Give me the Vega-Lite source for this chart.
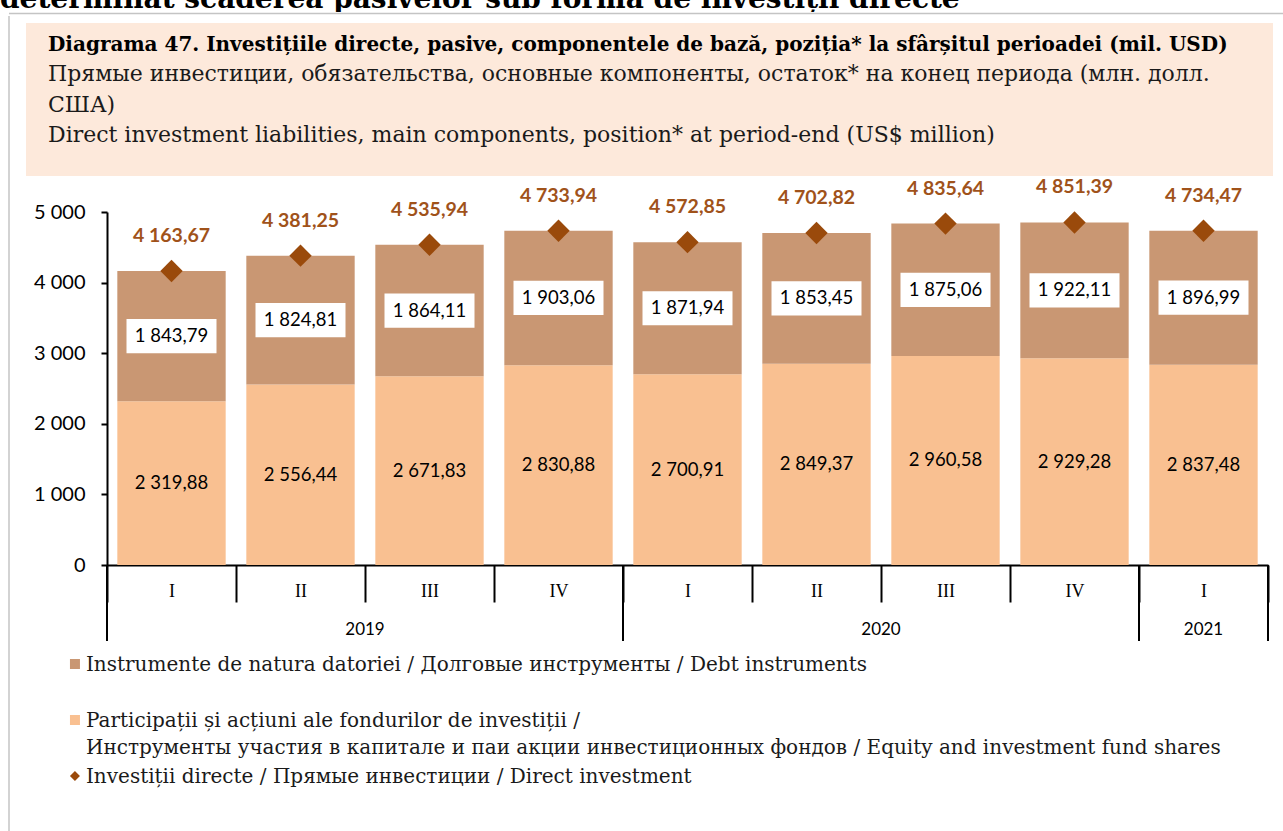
{
  "$schema": "https://vega.github.io/schema/vega-lite/v6.json",
  "padding": 0,
  "background": "white",
  "spacing": 0,
  "config": {
    "view": {"stroke": null},
    "locale": {"number": {"decimal": ",", "thousands": " ", "grouping": [3], "currency": ["", ""]}},
    "text": {"font": "Lato"}
  },
  "datasets": {
    "q": [
      {"period": "2019 I", "quarter": "I", "year": "2019", "equity": 2319.88, "debt": 1843.79, "total": 4163.67},
      {"period": "2019 II", "quarter": "II", "year": "2019", "equity": 2556.44, "debt": 1824.81, "total": 4381.25},
      {"period": "2019 III", "quarter": "III", "year": "2019", "equity": 2671.83, "debt": 1864.11, "total": 4535.94},
      {"period": "2019 IV", "quarter": "IV", "year": "2019", "equity": 2830.88, "debt": 1903.06, "total": 4733.94},
      {"period": "2020 I", "quarter": "I", "year": "2020", "equity": 2700.91, "debt": 1871.94, "total": 4572.85},
      {"period": "2020 II", "quarter": "II", "year": "2020", "equity": 2849.37, "debt": 1853.45, "total": 4702.82},
      {"period": "2020 III", "quarter": "III", "year": "2020", "equity": 2960.58, "debt": 1875.06, "total": 4835.64},
      {"period": "2020 IV", "quarter": "IV", "year": "2020", "equity": 2929.28, "debt": 1922.11, "total": 4851.39},
      {"period": "2021 I", "quarter": "I", "year": "2021", "equity": 2837.48, "debt": 1896.99, "total": 4734.47}
    ]
  },
  "vconcat": [
    {
      "width": 1283,
      "height": 12,
      "data": {"values": [{"t": "determinat scăderea pasivelor sub forma de investiții directe"}]},
      "mark": {"type": "text", "clip": true, "align": "left", "baseline": "alphabetic", "dy": -4, "font": "DejaVu Serif", "fontWeight": "bold", "fontSize": 28, "color": "black"},
      "encoding": {
        "x": {"datum": 0, "type": "quantitative", "scale": {"domain": [0, 1]}, "axis": null},
        "y": {"datum": 0, "type": "quantitative", "scale": {"domain": [0, 1]}, "axis": null},
        "text": {"field": "t"}
      }
    },
    {
      "spacing": 0,
      "hconcat": [
        {"width": 8, "height": 1, "data": {"values": []}, "mark": {"type": "rule"}, "encoding": {}},
        {
          "spacing": 0,
          "vconcat": [
            {
              "width": 1275,
              "height": 1,
              "data": {"values": [{"k": 1}]},
              "mark": {"type": "rule", "color": "#C4C4C4", "strokeWidth": 1.5},
              "encoding": {
                "x": {"datum": 0, "type": "quantitative", "scale": {"domain": [0, 1]}, "axis": null},
                "x2": {"datum": 1},
                "y": {"datum": 0.5, "type": "quantitative", "scale": {"domain": [0, 1]}, "axis": null}
              }
            },
            {
              "spacing": 16,
              "hconcat": [
                {
                  "width": 1,
                  "height": 815,
                  "data": {"values": [{"k": 1}]},
                  "mark": {"type": "rule", "color": "#C4C4C4", "strokeWidth": 1.5},
                  "encoding": {
                    "x": {"datum": 0, "type": "quantitative", "scale": {"domain": [0, 1]}, "axis": null},
                    "y": {"datum": 0, "type": "quantitative", "scale": {"domain": [0, 1]}, "axis": null},
                    "y2": {"datum": 1}
                  }
                },
                {
                  "spacing": 1,
                  "vconcat": [
                    {"width": 10, "height": 6, "data": {"values": []}, "mark": {"type": "rule"}, "encoding": {}},
                    {
                      "width": 1247,
                      "height": 153,
                      "view": {"fill": "#FDE9DB", "stroke": null},
                      "data": {"values": [
                        {"row": 1, "line": "Diagrama 47. Investițiile directe, pasive, componentele de bază, poziția* la sfârșitul perioadei (mil. USD)", "w": "bold"},
                        {"row": 2, "line": "Прямые инвестиции, обязательства, основные компоненты, остаток* на конец периода (млн. долл.", "w": "normal"},
                        {"row": 3, "line": "США)", "w": "normal"},
                        {"row": 4, "line": "Direct investment liabilities, main components, position* at period-end (US$ million)", "w": "normal"}
                      ]},
                      "encoding": {
                        "x": {"datum": 0, "type": "quantitative", "scale": {"domain": [0, 1]}, "axis": null},
                        "y": {"field": "row", "type": "ordinal", "scale": {"type": "point", "padding": 1.3, "align": 0.45}, "axis": null},
                        "text": {"field": "line"}
                      },
                      "layer": [
                        {"transform": [{"filter": "datum.w == 'bold'"}], "mark": {"type": "text", "align": "left", "baseline": "alphabetic", "dx": 22, "font": "DejaVu Serif", "fontWeight": "bold", "fontSize": 20, "color": "black"}},
                        {"transform": [{"filter": "datum.w == 'normal'"}], "mark": {"type": "text", "align": "left", "baseline": "alphabetic", "dx": 22, "font": "DejaVu Serif", "fontSize": 22, "color": "#1a1a1a"}}
                      ]
                    },
                    {
                      "spacing": 6,
                      "hconcat": [
                        {"width": 1, "height": 1, "data": {"values": []}, "mark": {"type": "rule"}, "encoding": {}},
                        {
                          "width": 1161,
                          "height": 353,
                          "data": {"name": "q"},
                          "layer": [
                            {
                              "mark": {"type": "bar", "color": "#F9C091", "width": {"band": 0.84}},
                              "encoding": {
                                "x": {"field": "period", "type": "nominal", "sort": null, "scale": {"paddingInner": 0, "paddingOuter": 0},
                                  "axis": {"title": null, "labelExpr": "split(datum.value, ' ')[1]", "tickBand": "extent", "tickSize": 37, "tickWidth": 2, "tickColor": "black", "domainColor": "black", "domainWidth": 2, "labelPadding": -20, "labelBaseline": "top", "labelAngle": 0, "labelFont": "Liberation Serif", "labelFontSize": 18, "labelColor": "black"}},
                                "y": {"field": "equity", "type": "quantitative", "scale": {"domain": [0, 5000], "nice": false},
                                  "axis": {"title": null, "values": [0, 500, 1000, 1500, 2000, 2500, 3000, 3500, 4000, 4500, 5000], "format": ",.0f", "grid": false, "tickSize": 6, "tickWidth": 2, "tickColor": "black", "domainColor": "black", "domainWidth": 2, "labelPadding": 16, "labelFont": "Lato", "labelFontSize": 20, "labelColor": "black"}}
                              }
                            },
                            {
                              "mark": {"type": "bar", "color": "#C99773", "width": {"band": 0.84}},
                              "encoding": {
                                "x": {"field": "period", "type": "nominal", "sort": null},
                                "y": {"field": "equity", "type": "quantitative"},
                                "y2": {"field": "total"}
                              }
                            },
                            {
                              "mark": {"type": "point", "shape": "diamond", "filled": true, "size": 500, "color": "#9A4A0B", "opacity": 1},
                              "encoding": {
                                "x": {"field": "period", "type": "nominal", "sort": null},
                                "y": {"field": "total", "type": "quantitative"}
                              }
                            },
                            {
                              "mark": {"type": "text", "baseline": "middle", "dy": -35, "font": "Lato", "fontWeight": "bold", "fontSize": 19.5, "color": "#A0521A"},
                              "encoding": {
                                "x": {"field": "period", "type": "nominal", "sort": null},
                                "y": {"field": "total", "type": "quantitative"},
                                "text": {"field": "total", "type": "quantitative", "format": ",.2f"}
                              }
                            },
                            {
                              "transform": [{"calculate": "datum.equity + datum.debt / 2", "as": "debtMid"}],
                              "mark": {"type": "point", "shape": "M -1 -0.38 L 1 -0.38 L 1 0.38 L -1 0.38 Z", "size": 8100, "filled": true, "color": "white", "opacity": 1},
                              "encoding": {
                                "x": {"field": "period", "type": "nominal", "sort": null},
                                "y": {"field": "debtMid", "type": "quantitative"}
                              }
                            },
                            {
                              "transform": [{"calculate": "datum.equity + datum.debt / 2", "as": "debtMid"}],
                              "mark": {"type": "text", "baseline": "middle", "font": "Lato", "fontSize": 18.5, "color": "black"},
                              "encoding": {
                                "x": {"field": "period", "type": "nominal", "sort": null},
                                "y": {"field": "debtMid", "type": "quantitative"},
                                "text": {"field": "debt", "type": "quantitative", "format": ",.2f"}
                              }
                            },
                            {
                              "transform": [{"calculate": "datum.equity / 2", "as": "eqMid"}],
                              "mark": {"type": "text", "baseline": "middle", "font": "Lato", "fontSize": 18.5, "color": "black"},
                              "encoding": {
                                "x": {"field": "period", "type": "nominal", "sort": null},
                                "y": {"field": "eqMid", "type": "quantitative"},
                                "text": {"field": "equity", "type": "quantitative", "format": ",.2f"}
                              }
                            },
                            {
                              "transform": [{"filter": "datum.quarter == 'I'"}],
                              "mark": {"type": "rule", "color": "black", "strokeWidth": 2},
                              "encoding": {
                                "x": {"field": "period", "type": "nominal", "sort": null, "bandPosition": 0},
                                "y": {"datum": 0, "type": "quantitative"},
                                "y2": {"datum": -1076}
                              }
                            },
                            {
                              "transform": [{"filter": "datum.period == '2021 I'"}],
                              "mark": {"type": "rule", "color": "black", "strokeWidth": 2},
                              "encoding": {
                                "x": {"field": "period", "type": "nominal", "sort": null, "bandPosition": 1},
                                "y": {"datum": 0, "type": "quantitative"},
                                "y2": {"datum": -1076}
                              }
                            },
                            {
                              "transform": [{"filter": "datum.quarter == 'II' && datum.year != '2021'"}],
                              "mark": {"type": "text", "baseline": "middle", "font": "Lato", "fontSize": 17, "color": "black"},
                              "encoding": {
                                "x": {"field": "period", "type": "nominal", "sort": null, "bandPosition": 1},
                                "y": {"datum": -920, "type": "quantitative"},
                                "text": {"field": "year"}
                              }
                            },
                            {
                              "transform": [{"filter": "datum.period == '2021 I'"}],
                              "mark": {"type": "text", "baseline": "middle", "font": "Lato", "fontSize": 17, "color": "black"},
                              "encoding": {
                                "x": {"field": "period", "type": "nominal", "sort": null, "bandPosition": 0.5},
                                "y": {"datum": -920, "type": "quantitative"},
                                "text": {"field": "year"}
                              }
                            }
                          ]
                        }
                      ]
                    },
                    {
                      "width": 1200,
                      "height": 160,
                      "data": {"values": [
                        {"key": "debt", "label": "Instrumente de natura datoriei / Долговые инструменты / Debt instruments"},
                        {"key": "equity", "label": ["Participații și acțiuni ale fondurilor de investiții /", "Инструменты участия в капитале и паи акции инвестиционных фондов / Equity and investment fund shares"]},
                        {"key": "direct", "label": "Investiții directe / Прямые инвестиции / Direct investment"}
                      ]},
                      "encoding": {
                        "x": {"datum": 0.0408, "type": "quantitative", "scale": {"domain": [0, 1]}, "axis": null},
                        "y": {"field": "key", "type": "nominal", "sort": null, "scale": {"type": "point", "padding": 0.4286, "align": 0.4375}, "axis": null}
                      },
                      "layer": [
                        {
                          "mark": {"type": "point", "filled": true, "opacity": 1, "size": 100},
                          "encoding": {
                            "shape": {"field": "key", "type": "nominal", "scale": {"domain": ["debt", "equity", "direct"], "range": ["square", "square", "diamond"]}, "legend": null},
                            "color": {"field": "key", "type": "nominal", "scale": {"domain": ["debt", "equity", "direct"], "range": ["#C99773", "#F9C091", "#9A4A0B"]}, "legend": null}
                          }
                        },
                        {
                          "mark": {"type": "text", "align": "left", "baseline": "alphabetic", "dx": 11, "dy": 7, "lineHeight": 27, "font": "DejaVu Serif", "fontSize": 20, "color": "#1a1a1a"},
                          "encoding": {"text": {"field": "label"}}
                        }
                      ]
                    }
                  ]
                }
              ]
            }
          ]
        }
      ]
    }
  ]
}
